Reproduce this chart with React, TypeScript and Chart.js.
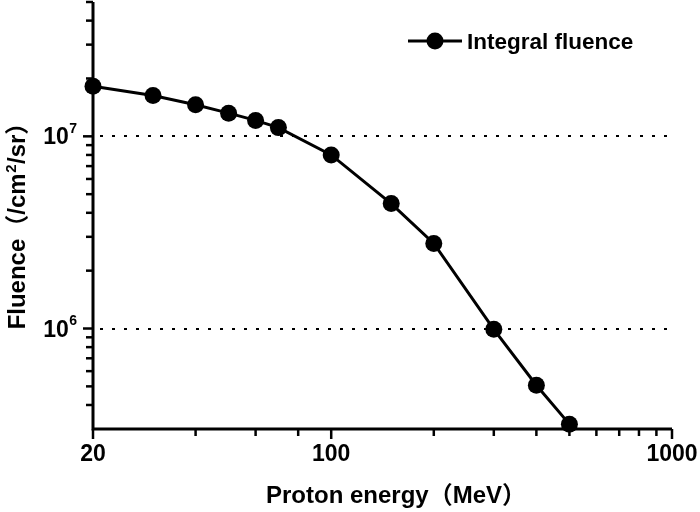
import React, { useEffect, useRef } from "react";
import { Chart, registerables } from "chart.js";

Chart.register(...registerables);

// ---- data ----
const energies = [20, 30, 40, 50, 60, 70, 100, 150, 200, 300, 400, 500];
const fluence = [1.82e7, 1.63e7, 1.46e7, 1.32e7, 1.21e7, 1.11e7, 8.0e6, 4.47e6, 2.77e6, 9.9e5, 5.07e5, 3.18e5];
const seriesLabel = "Integral fluence";

const xMajorTicks = [20, 100, 1000];
const xMinorTicks = [40, 60, 80, 200, 300, 400, 500, 600, 700, 800, 900];
const xTickLabels = ["20", "100", "1000"];

const yMajorTicks = [1e6, 1e7];
const yMajorExponents = ["6", "7"];
const yMinorTicks = [4e5, 5e5, 6e5, 7e5, 8e5, 9e5, 2e6, 3e6, 4e6, 5e6, 6e6, 7e6, 8e6, 9e6, 2e7, 3e7, 4e7, 5e7];
const yGridLines = [1e6, 1e7];

const xTitle = "Proton energy（MeV）";
const yTitleParts = ["Fluence（/cm", "2", "/sr）"];

const X_MIN = 20;
const X_MAX = 1000;
const Y_MIN = 3e5;
const Y_MAX = 5e7;

const FAMILY = "'Liberation Sans', Arial, 'Noto Sans CJK SC', sans-serif";
const f = (size: number) => `bold ${size}px ${FAMILY}`;

const customPlugin = {
  id: "customAxes",
  beforeDatasetsDraw(chart: any) {
    const { ctx, chartArea: ca, scales } = chart;
    const x = scales.x;
    const y = scales.y;
    ctx.save();
    ctx.strokeStyle = "#000";
    // dotted grid lines
    ctx.lineWidth = 2;
    ctx.setLineDash([3, 9]);
    for (const v of yGridLines) {
      const py = Math.round(y.getPixelForValue(v));
      ctx.beginPath();
      ctx.moveTo(ca.left + 7, py);
      ctx.lineTo(ca.right, py);
      ctx.stroke();
    }
    ctx.setLineDash([]);
    // axis lines
    ctx.lineWidth = 3;
    ctx.beginPath();
    ctx.moveTo(ca.left, ca.top);
    ctx.lineTo(ca.left, ca.bottom);
    ctx.lineTo(ca.right, ca.bottom);
    ctx.stroke();
    // ticks
    ctx.lineWidth = 2.5;
    const tick = (x1: number, y1: number, x2: number, y2: number) => {
      ctx.beginPath();
      ctx.moveTo(x1, y1);
      ctx.lineTo(x2, y2);
      ctx.stroke();
    };
    for (const v of xMajorTicks) {
      const px = x.getPixelForValue(v);
      tick(px, ca.bottom, px, ca.bottom + 10);
    }
    for (const v of xMinorTicks) {
      const px = x.getPixelForValue(v);
      tick(px, ca.bottom, px, ca.bottom + 7);
    }
    for (const v of yMajorTicks) {
      const py = y.getPixelForValue(v);
      tick(ca.left - 10, py, ca.left, py);
    }
    for (const v of yMinorTicks) {
      const py = y.getPixelForValue(v);
      tick(ca.left - 7, py, ca.left, py);
    }
    ctx.restore();
  },
  afterDraw(chart: any) {
    const { ctx, chartArea: ca, scales } = chart;
    const x = scales.x;
    const y = scales.y;
    ctx.save();
    ctx.fillStyle = "#000";
    ctx.textBaseline = "alphabetic";
    // x tick labels
    ctx.font = f(23);
    ctx.textAlign = "center";
    xMajorTicks.forEach((v, i) => {
      ctx.fillText(xTickLabels[i], x.getPixelForValue(v), ca.bottom + 32);
    });
    // y tick labels 10^n
    yMajorTicks.forEach((v, i) => {
      const py = y.getPixelForValue(v);
      const right = ca.left - 16;
      ctx.font = f(14);
      ctx.textAlign = "right";
      const sw = ctx.measureText(yMajorExponents[i]).width;
      ctx.fillText(yMajorExponents[i], right, py - 3.5);
      ctx.font = f(23);
      ctx.fillText("10", right - sw - 0.5, py + 8);
    });
    // x title
    ctx.font = f(24);
    ctx.textAlign = "center";
    ctx.fillText(xTitle, 396, 503);
    // y title (rotated, with superscript)
    ctx.save();
    ctx.translate(25, 220);
    ctx.rotate(-Math.PI / 2);
    ctx.textAlign = "left";
    ctx.font = f(24);
    const w0 = ctx.measureText(yTitleParts[0]).width;
    const w2 = ctx.measureText(yTitleParts[2]).width;
    ctx.font = f(15);
    const w1 = ctx.measureText(yTitleParts[1]).width;
    const total = w0 + w1 + w2 + 1;
    let cx = -total / 2;
    ctx.font = f(24);
    ctx.fillText(yTitleParts[0], cx, 0);
    cx += w0 + 0.5;
    ctx.font = f(15);
    ctx.fillText(yTitleParts[1], cx, -9.5);
    cx += w1 + 0.5;
    ctx.font = f(24);
    ctx.fillText(yTitleParts[2], cx, 0);
    ctx.restore();
    // legend
    ctx.strokeStyle = "#000";
    ctx.lineWidth = 3;
    ctx.beginPath();
    ctx.moveTo(408, 41);
    ctx.lineTo(462, 41);
    ctx.stroke();
    ctx.beginPath();
    ctx.arc(435, 41, 8.5, 0, Math.PI * 2);
    ctx.fill();
    ctx.font = f(22.5);
    ctx.textAlign = "left";
    ctx.fillText(seriesLabel, 467, 48.5);
    ctx.restore();
  },
};

export default function App() {
  const ref = useRef<HTMLCanvasElement | null>(null);
  useEffect(() => {
    if (!ref.current) return;
    const chart = new Chart(ref.current, {
      type: "line",
      data: {
        datasets: [
          {
            label: seriesLabel,
            data: energies.map((e, i) => ({ x: e, y: fluence[i] })),
            borderColor: "#000",
            backgroundColor: "#000",
            borderWidth: 3,
            pointRadius: 8.5,
            pointBackgroundColor: "#000",
            pointBorderWidth: 0,
            tension: 0,
            clip: false as any,
          },
        ],
      },
      options: {
        animation: false,
        responsive: false,
        layout: { autoPadding: false, padding: { left: 93, right: 28, top: 2, bottom: 83 } },
        plugins: { legend: { display: false }, tooltip: { enabled: false } },
        scales: {
          x: { type: "logarithmic", min: X_MIN, max: X_MAX, display: false },
          y: { type: "logarithmic", min: Y_MIN, max: Y_MAX, display: false },
        },
      },
      plugins: [customPlugin],
    });
    return () => chart.destroy();
  }, []);
  return (
    <div style={{ position: "absolute", left: 0, top: 0, width: 700, height: 512, background: "#fff" }}>
      <canvas ref={ref} width={700} height={512} style={{ display: "block" }} />
    </div>
  );
}
